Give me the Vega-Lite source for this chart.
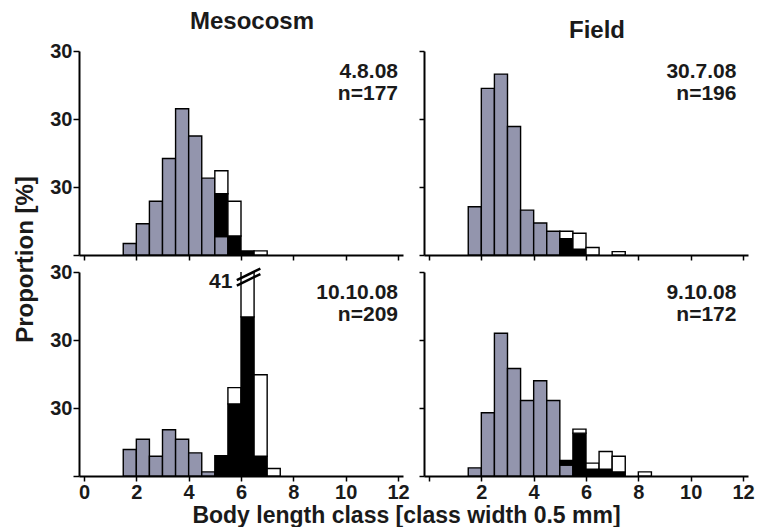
{
  "$schema": "https://vega.github.io/schema/vega-lite/v6.json",
  "padding": {"left": 13, "top": 10, "right": 5, "bottom": 0},
  "datasets": {
    "bars": [
      {"panel": "TL", "start": 1.5, "end": 2.0, "group": "A", "value": 1.7},
      {"panel": "TL", "start": 2.0, "end": 2.5, "group": "A", "value": 4.6},
      {"panel": "TL", "start": 2.5, "end": 3.0, "group": "A", "value": 7.9},
      {"panel": "TL", "start": 3.0, "end": 3.5, "group": "A", "value": 14.2},
      {"panel": "TL", "start": 3.5, "end": 4.0, "group": "A", "value": 21.5},
      {"panel": "TL", "start": 4.0, "end": 4.5, "group": "A", "value": 17.5},
      {"panel": "TL", "start": 4.5, "end": 5.0, "group": "A", "value": 11.3},
      {"panel": "TL", "start": 5.0, "end": 5.5, "group": "A", "value": 2.7},
      {"panel": "TL", "start": 5.0, "end": 5.5, "group": "B", "value": 6.3},
      {"panel": "TL", "start": 5.0, "end": 5.5, "group": "C", "value": 3.4},
      {"panel": "TL", "start": 5.5, "end": 6.0, "group": "B", "value": 2.8},
      {"panel": "TL", "start": 5.5, "end": 6.0, "group": "C", "value": 5.1},
      {"panel": "TL", "start": 6.0, "end": 6.5, "group": "B", "value": 0.6},
      {"panel": "TL", "start": 6.5, "end": 7.0, "group": "C", "value": 0.6},

      {"panel": "TR", "start": 1.5, "end": 2.0, "group": "A", "value": 7.1},
      {"panel": "TR", "start": 2.0, "end": 2.5, "group": "A", "value": 24.5},
      {"panel": "TR", "start": 2.5, "end": 3.0, "group": "A", "value": 26.6},
      {"panel": "TR", "start": 3.0, "end": 3.5, "group": "A", "value": 18.9},
      {"panel": "TR", "start": 3.5, "end": 4.0, "group": "A", "value": 6.6},
      {"panel": "TR", "start": 4.0, "end": 4.5, "group": "A", "value": 4.7},
      {"panel": "TR", "start": 4.5, "end": 5.0, "group": "A", "value": 3.5},
      {"panel": "TR", "start": 5.0, "end": 5.5, "group": "B", "value": 2.4},
      {"panel": "TR", "start": 5.0, "end": 5.5, "group": "C", "value": 1.1},
      {"panel": "TR", "start": 5.5, "end": 6.0, "group": "B", "value": 0.85},
      {"panel": "TR", "start": 5.5, "end": 6.0, "group": "C", "value": 2.35},
      {"panel": "TR", "start": 6.0, "end": 6.5, "group": "C", "value": 1.1},
      {"panel": "TR", "start": 7.0, "end": 7.5, "group": "C", "value": 0.5},

      {"panel": "BL", "start": 1.5, "end": 2.0, "group": "A", "value": 3.9},
      {"panel": "BL", "start": 2.0, "end": 2.5, "group": "A", "value": 5.4},
      {"panel": "BL", "start": 2.5, "end": 3.0, "group": "A", "value": 2.9},
      {"panel": "BL", "start": 3.0, "end": 3.5, "group": "A", "value": 6.8},
      {"panel": "BL", "start": 3.5, "end": 4.0, "group": "A", "value": 5.4},
      {"panel": "BL", "start": 4.0, "end": 4.5, "group": "A", "value": 3.4},
      {"panel": "BL", "start": 4.5, "end": 5.0, "group": "A", "value": 0.6},
      {"panel": "BL", "start": 5.0, "end": 5.5, "group": "B", "value": 3.0},
      {"panel": "BL", "start": 5.5, "end": 6.0, "group": "B", "value": 10.6},
      {"panel": "BL", "start": 5.5, "end": 6.0, "group": "C", "value": 2.4},
      {"panel": "BL", "start": 6.0, "end": 6.5, "group": "B", "value": 23.4},
      {"panel": "BL", "start": 6.0, "end": 6.5, "group": "C", "value": 17.6},
      {"panel": "BL", "start": 6.5, "end": 7.0, "group": "B", "value": 2.9},
      {"panel": "BL", "start": 6.5, "end": 7.0, "group": "C", "value": 12.0},
      {"panel": "BL", "start": 7.0, "end": 7.5, "group": "C", "value": 1.1},

      {"panel": "BR", "start": 1.5, "end": 2.0, "group": "A", "value": 1.2},
      {"panel": "BR", "start": 2.0, "end": 2.5, "group": "A", "value": 9.3},
      {"panel": "BR", "start": 2.5, "end": 3.0, "group": "A", "value": 21.0},
      {"panel": "BR", "start": 3.0, "end": 3.5, "group": "A", "value": 15.8},
      {"panel": "BR", "start": 3.5, "end": 4.0, "group": "A", "value": 11.1},
      {"panel": "BR", "start": 4.0, "end": 4.5, "group": "A", "value": 14.0},
      {"panel": "BR", "start": 4.5, "end": 5.0, "group": "A", "value": 11.1},
      {"panel": "BR", "start": 5.0, "end": 5.5, "group": "A", "value": 1.6},
      {"panel": "BR", "start": 5.0, "end": 5.5, "group": "B", "value": 0.7},
      {"panel": "BR", "start": 5.5, "end": 6.0, "group": "B", "value": 6.3},
      {"panel": "BR", "start": 5.5, "end": 6.0, "group": "C", "value": 0.6},
      {"panel": "BR", "start": 6.0, "end": 6.5, "group": "B", "value": 1.0},
      {"panel": "BR", "start": 6.0, "end": 6.5, "group": "C", "value": 0.9},
      {"panel": "BR", "start": 6.5, "end": 7.0, "group": "B", "value": 1.0},
      {"panel": "BR", "start": 6.5, "end": 7.0, "group": "C", "value": 2.6},
      {"panel": "BR", "start": 7.0, "end": 7.5, "group": "B", "value": 0.6},
      {"panel": "BR", "start": 7.0, "end": 7.5, "group": "C", "value": 2.3},
      {"panel": "BR", "start": 8.0, "end": 8.5, "group": "C", "value": 0.6}
    ],
    "breaks": [
      {"x": 5.84, "y": 28.8, "x2": 6.74, "y2": 30.5},
      {"x": 5.84, "y": 28.0, "x2": 6.74, "y2": 29.7}
    ]
  },
  "columns": 2,
  "spacing": {"row": 17, "column": 21},
  "bounds": "flush",
  "concat": [
    {
      "width": 324, "height": 204,
      "title": {"text": "Mesocosm", "dx": 11},
      "layer": [
        {
          "data": {"name": "bars"},
          "transform": [{"filter": "datum.panel == 'TL'"}],
          "mark": {"type": "bar", "orient": "vertical", "stroke": "#000", "strokeWidth": 1.4, "clip": true},
          "encoding": {
            "x": {"field": "start", "type": "quantitative", "scale": {"domain": [0, 12], "nice": false},
                  "axis": {"values": [0,1,2,3,4,5,6,7,8,9,10,11,12], "labels": false, "title": null, "tickSize": 5}},
            "x2": {"field": "end"},
            "y": {"field": "value", "type": "quantitative", "stack": "zero", "scale": {"domain": [0, 30], "nice": false},
                  "axis": {"values": [0, 10, 20, 30], "labelExpr": "datum.value > 0 ? '30' : ''", "tickSize": 6,
                           "title": "Proportion [%]", "titleX": -47, "titleY": 208, "titleBaseline": "alphabetic", "titleAngle": -90}},
            "color": {"field": "group", "type": "nominal", "legend": null,
                      "scale": {"domain": ["A", "B", "C"], "range": ["#9395ad", "#000000", "#ffffff"]}},
            "order": {"field": "group", "sort": "ascending"}
          }
        },
        {
          "data": {"values": [{}]},
          "mark": {"type": "text", "text": ["4.8.08", "n=177"], "align": "right", "baseline": "top", "lineHeight": 22},
          "encoding": {"x": {"datum": 12}, "y": {"datum": 28.5}}
        }
      ]
    },
    {
      "width": 324, "height": 204,
      "title": {"text": "Field", "dx": 11},
      "layer": [
        {
          "data": {"name": "bars"},
          "transform": [{"filter": "datum.panel == 'TR'"}],
          "mark": {"type": "bar", "orient": "vertical", "stroke": "#000", "strokeWidth": 1.4, "clip": true},
          "encoding": {
            "x": {"field": "start", "type": "quantitative", "scale": {"domain": [0, 12], "nice": false},
                  "axis": {"values": [0,1,2,3,4,5,6,7,8,9,10,11,12], "labels": false, "title": null, "tickSize": 5}},
            "x2": {"field": "end"},
            "y": {"field": "value", "type": "quantitative", "stack": "zero", "scale": {"domain": [0, 30], "nice": false},
                  "axis": {"values": [0, 10, 20, 30], "labels": false, "tickSize": 5, "title": null}},
            "color": {"field": "group", "type": "nominal", "legend": null,
                      "scale": {"domain": ["A", "B", "C"], "range": ["#9395ad", "#000000", "#ffffff"]}},
            "order": {"field": "group", "sort": "ascending"}
          }
        },
        {
          "data": {"values": [{}]},
          "mark": {"type": "text", "text": ["30.7.08", "n=196"], "align": "right", "baseline": "top", "lineHeight": 22},
          "encoding": {"x": {"datum": 11.75}, "y": {"datum": 28.5}}
        }
      ]
    },
    {
      "width": 324, "height": 204,
      "layer": [
        {
          "data": {"name": "bars"},
          "transform": [{"filter": "datum.panel == 'BL'"}],
          "mark": {"type": "bar", "orient": "vertical", "stroke": "#000", "strokeWidth": 1.4, "clip": true},
          "encoding": {
            "x": {"field": "start", "type": "quantitative", "scale": {"domain": [0, 12], "nice": false},
                  "axis": {"values": [0,1,2,3,4,5,6,7,8,9,10,11,12], "labelExpr": "datum.value % 2 == 0 ? datum.label : ''", "tickSize": 5,
                           "title": "Body length class [class width 0.5 mm]", "titleX": 327, "titleY": 46, "titleFontSize": 23, "titleBaseline": "alphabetic"}},
            "x2": {"field": "end"},
            "y": {"field": "value", "type": "quantitative", "stack": "zero", "scale": {"domain": [0, 30], "nice": false},
                  "axis": {"values": [0, 10, 20, 30], "labelExpr": "datum.value > 0 ? '30' : ''", "tickSize": 6, "title": null}},
            "color": {"field": "group", "type": "nominal", "legend": null,
                      "scale": {"domain": ["A", "B", "C"], "range": ["#9395ad", "#000000", "#ffffff"]}},
            "order": {"field": "group", "sort": "ascending"}
          }
        },
        {
          "data": {"name": "breaks"},
          "mark": {"type": "rule", "stroke": "#000", "strokeWidth": 2.5},
          "encoding": {
            "x": {"field": "x", "type": "quantitative"},
            "y": {"field": "y", "type": "quantitative"},
            "x2": {"field": "x2"},
            "y2": {"field": "y2"}
          }
        },
        {
          "data": {"values": [{}]},
          "mark": {"type": "text", "text": "41", "align": "right", "baseline": "middle"},
          "encoding": {"x": {"datum": 5.67}, "y": {"datum": 28.6}}
        },
        {
          "data": {"values": [{}]},
          "mark": {"type": "text", "text": ["10.10.08", "n=209"], "align": "right", "baseline": "top", "lineHeight": 22},
          "encoding": {"x": {"datum": 12}, "y": {"datum": 28.5}}
        }
      ]
    },
    {
      "width": 324, "height": 204,
      "layer": [
        {
          "data": {"name": "bars"},
          "transform": [{"filter": "datum.panel == 'BR'"}],
          "mark": {"type": "bar", "orient": "vertical", "stroke": "#000", "strokeWidth": 1.4, "clip": true},
          "encoding": {
            "x": {"field": "start", "type": "quantitative", "scale": {"domain": [0, 12], "nice": false},
                  "axis": {"values": [0,1,2,3,4,5,6,7,8,9,10,11,12], "labelExpr": "datum.value % 2 == 0 && datum.value > 0 ? datum.label : ''", "tickSize": 5, "title": null}},
            "x2": {"field": "end"},
            "y": {"field": "value", "type": "quantitative", "stack": "zero", "scale": {"domain": [0, 30], "nice": false},
                  "axis": {"values": [0, 10, 20, 30], "labels": false, "tickSize": 5, "title": null}},
            "color": {"field": "group", "type": "nominal", "legend": null,
                      "scale": {"domain": ["A", "B", "C"], "range": ["#9395ad", "#000000", "#ffffff"]}},
            "order": {"field": "group", "sort": "ascending"}
          }
        },
        {
          "data": {"values": [{}]},
          "mark": {"type": "text", "text": ["9.10.08", "n=172"], "align": "right", "baseline": "top", "lineHeight": 22},
          "encoding": {"x": {"datum": 11.75}, "y": {"datum": 28.5}}
        }
      ]
    }
  ],
  "config": {
    "font": "Liberation Sans",
    "view": {"stroke": null},
    "axis": {
      "grid": false,
      "domainColor": "#000", "domainWidth": 2,
      "tickColor": "#000", "tickWidth": 1.5,
      "labelFont": "Liberation Sans", "labelFontSize": 20, "labelFontWeight": "bold", "labelColor": "#1a1a1a",
      "labelPadding": 1,
      "titleFont": "Liberation Sans", "titleFontSize": 24, "titleFontWeight": "bold", "titleColor": "#1a1a1a"
    },
    "title": {"font": "Liberation Sans", "fontSize": 24, "fontWeight": "bold", "color": "#1a1a1a", "offset": 7},
    "text": {"font": "Liberation Sans", "fontSize": 21, "fontWeight": "bold", "color": "#1a1a1a"}
  }
}
